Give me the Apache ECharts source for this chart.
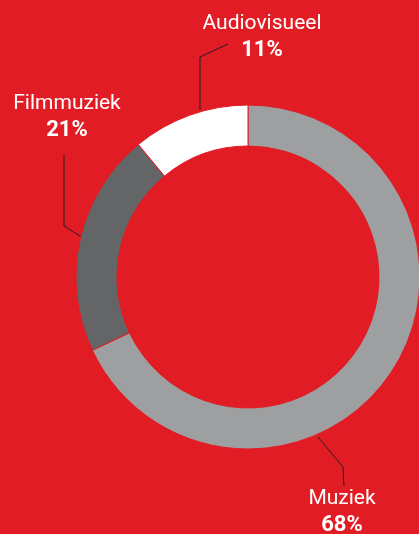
<!DOCTYPE html>
<html>
<head>
<meta charset="utf-8">
<script src="https://cdn.jsdelivr.net/npm/echarts@6/dist/echarts.min.js"></script>
<style>
  html, body { margin: 0; padding: 0; background: #e21c24; }
  #chart { width: 419px; height: 534px; }
</style>
</head>
<body>
<div id="chart"></div>
<script>
// data
const categories = ['Muziek', 'Filmmuziek', 'Audiovisueel'];
const shares = [68, 21, 11];

// look
const sliceColors = ['#9d9fa1', '#646567', '#ffffff'];
// label placement (text top-centre + leader line), per category
const labelSpots = [
  { x: 342, y: 486, line: [[318, 437], [343, 467], [344, 486]] },
  { x: 67, y: 91, line: [[85, 239], [64, 226], [64, 155]] },
  { x: 262, y: 11, line: [[200, 110], [200, 57], [228, 44]] }
];

const chart = echarts.init(document.getElementById('chart'));
chart.setOption({
  backgroundColor: '#e21c24',
  animation: false,
  series: [
    {
      type: 'pie',
      center: [248, 277],
      radius: [131, 172],
      startAngle: 90,
      clockwise: true,
      silent: true,
      itemStyle: {
        borderColor: '#e21c24',
        borderWidth: 1
      },
      label: {
        show: true,
        position: 'outer',
        alignTo: 'none',
        overflow: 'none',
        color: '#fff',
        formatter: function (p) {
          return '{a|' + p.name + '}\n{b|' + p.value + '%}'
        },
        rich: {
          a: { fontFamily: 'Roboto', fontSize: 21, lineHeight: 26, color: '#fff', align: 'center' },
          b: { fontFamily: 'Roboto', fontSize: 22, fontWeight: 'bold', lineHeight: 26, color: '#fff', align: 'center' }
        }
      },
      labelLine: {
        show: true,
        lineStyle: { color: '#231f20', width: 1 }
      },
      labelLayout: function (params) {
        const s = labelSpots[params.dataIndex]
        return {
          x: s.x,
          y: s.y,
          align: 'center',
          verticalAlign: 'top',
          labelLinePoints: s.line
        }
      },
      data: categories.map(function (name, i) {
        return { name: name, value: shares[i], itemStyle: { color: sliceColors[i] } }
      })
    }
  ]
})
</script>
</body>
</html>
